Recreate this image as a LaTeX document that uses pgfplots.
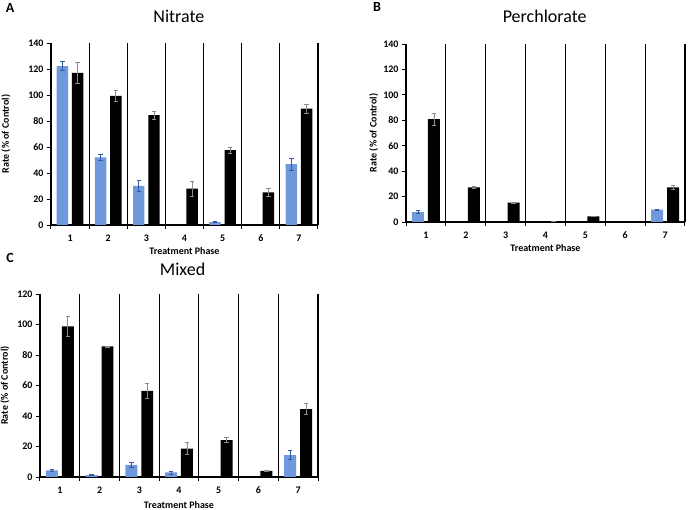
\documentclass[border=0pt]{standalone}
\usepackage{pgfplots}
\pgfplotsset{compat=1.18}
\usepackage{fontspec}
\setmainfont{Carlito}
\definecolor{barblue}{RGB}{112,152,220}
\definecolor{errblue}{RGB}{46,90,158}
\definecolor{errgray}{RGB}{140,140,140}
\pgfplotsset{
 panel/.style={
  scale only axis, xmin=0.5, xmax=7.5, ymin=0,
  axis x line*=bottom, axis y line*=left,
  axis line style={line width=1.3pt, -},
  xtick={1,...,7}, minor xtick={0.5,1.5,...,7.5},
  major x tick style={draw=none},
  minor x tick style={line width=1pt, black},
  minor tick length=4pt,
  xminorgrids, minor grid style={black, line width=1.1pt},
  tick align=outside,
  major tick length=4pt,
  ytick style={line width=0.8pt, black},
  ticklabel style={font=\bfseries\fontsize{10}{11}\selectfont},
  xticklabel style={yshift=-2pt},
  /pgf/number format/assume math mode=true,
  xlabel={Treatment Phase}, ylabel={Rate (\% of Control)},
  label style={font=\bfseries\fontsize{10}{11}\selectfont},
  xlabel style={at={(axis description cs:0.5,0)}, anchor=center, yshift=-26pt},
  title style={font=\fontsize{18}{20}\selectfont, anchor=center},
 },
 bluebar/.style={ybar, bar width=#1*0.3pt, bar shift=-#1*0.2pt, fill=barblue, draw=none,
  error bars/.cd, y dir=both, y explicit,
  error bar style={errblue, line width=0.7pt, xshift=-#1*0.2pt},
  error mark options={rotate=90, mark size=2.2pt, errblue, line width=0.7pt}},
 blackbar/.style={ybar, bar width=#1*0.3pt, bar shift=#1*0.2pt, fill=black, draw=none,
  error bars/.cd, y dir=both, y explicit,
  error bar style={errgray, line width=0.7pt, xshift=#1*0.2pt},
  error mark options={rotate=90, mark size=2.2pt, errgray, line width=0.7pt}},
}
\begin{document}
\begin{tikzpicture}
\useasboundingbox (0,0) rectangle (688pt,510pt);
\fill[white] (0,0) rectangle (688pt,510pt);
% Panel A
\begin{axis}[panel, at={(51pt,285pt)}, anchor=south west, width=267pt, height=182pt,
  ymax=140, ytick={0,20,...,140},
  title={Nitrate}, title style={at={(axis description cs:0.479,1)}, yshift=21pt},
  ylabel style={at={(axis description cs:-0.169,0.5)}, anchor=center}]
\addplot[bluebar=38.1] coordinates {(1,122.3) +- (0,3.5) (2,52) +- (0,2) (3,30) +- (0,4.5) (5,2.3) +- (0,0.5) (7,46.8) +- (0,4.6)};
\addplot[blackbar=38.1] coordinates {(1,117) +- (0,8) (2,99.3) +- (0,4) (3,84.5) +- (0,3.3) (4,27.9) +- (0,5.8) (5,57.6) +- (0,2.5) (6,25) +- (0,3.3) (7,89.6) +- (0,3.5)};
\end{axis}
% Panel B
\begin{axis}[panel, at={(406pt,288pt)}, anchor=south west, width=279pt, height=178pt,
  ymax=140, ytick={0,20,...,140},
  title={Perchlorate}, title style={at={(axis description cs:0.497,1)}, yshift=22pt},
  ylabel style={at={(axis description cs:-0.116,0.5)}, anchor=center}]
\addplot[bluebar=39.9] coordinates {(1,7.8) +- (0,1.3) (7,9.7) +- (0,0.5)};
\addplot[blackbar=39.9] coordinates {(1,80.9) +- (0,4.5) (2,27.2) +- (0,1) (3,15.2) +- (0,0.3) (4,0.5) +- (0,0.2) (5,4.4) +- (0,0.3) (7,27.2) +- (0,1.8)};
\end{axis}
% Panel C
\begin{axis}[panel, at={(40pt,33pt)}, anchor=south west, width=278pt, height=183pt,
  ymax=120, ytick={0,20,...,120},
  title={Mixed}, title style={at={(axis description cs:0.513,1)}, yshift=19pt},
  ylabel style={at={(axis description cs:-0.126,0.5)}, anchor=center},
  xlabel style={yshift=-2pt}]
\addplot[bluebar=39.7] coordinates {(1,4.4) +- (0,0.4) (2,1.3) +- (0,0.4) (3,7.9) +- (0,1.5) (4,3) +- (0,1) (7,14.3) +- (0,3)};
\addplot[blackbar=39.7] coordinates {(1,98.7) +- (0,6.5) (2,85.6) +- (0,0.3) (3,56.4) +- (0,5) (4,18.6) +- (0,4) (5,24.1) +- (0,1.6) (6,4) +- (0,0.3) (7,44.5) +- (0,3.5)};
\end{axis}
\node[font=\bfseries\fontsize{14}{14}\selectfont] at (10pt,502.5pt) {A};
\node[font=\bfseries\fontsize{14}{14}\selectfont] at (377pt,503pt) {B};
\node[font=\bfseries\fontsize{14}{14}\selectfont] at (10pt,252pt) {C};
\end{tikzpicture}
\end{document}
